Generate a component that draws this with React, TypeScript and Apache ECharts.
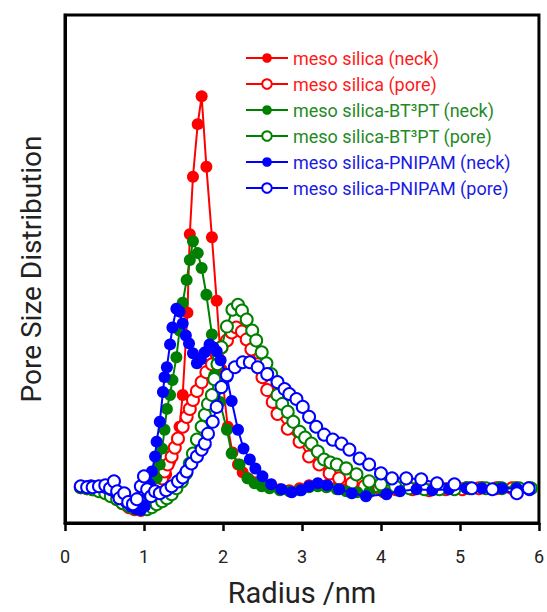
import React, { useEffect, useRef } from "react";
import * as echarts from "echarts";

// Radius (nm), pore size distribution (a.u.)
const xTickValues = [0, 1, 2, 3, 4, 5, 6];

const seriesNames = [
  "meso silica (neck)",
  "meso silica (pore)",
  "meso silica-BT³PT (neck)",
  "meso silica-BT³PT (pore)",
  "meso silica-PNIPAM (neck)",
  "meso silica-PNIPAM (pore)",
];

const redNeck: [number, number][] = [
  [0.20, 0.37], [0.28, 0.36], [0.35, 0.36], [0.43, 0.35], [0.51, 0.33], [0.58, 0.30], [0.66, 0.26],
  [0.73, 0.21], [0.81, 0.17], [0.88, 0.14], [0.96, 0.12], [1.04, 0.14], [1.11, 0.18], [1.17, 0.27],
  [1.23, 0.37], [1.28, 0.49], [1.33, 0.62], [1.39, 0.75], [1.45, 0.97], [1.49, 1.29], [1.55, 2.12],
  [1.58, 2.91], [1.62, 3.49], [1.68, 4.02], [1.73, 4.30], [1.79, 3.59], [1.86, 2.88], [1.92, 2.24],
  [1.98, 1.55], [2.06, 0.97], [2.12, 0.71], [2.19, 0.59], [2.25, 0.51], [2.32, 0.45], [2.40, 0.41],
  [2.49, 0.38], [2.59, 0.36], [2.72, 0.34], [2.84, 0.33], [2.97, 0.35], [3.09, 0.38], [3.20, 0.39],
  [3.31, 0.38], [3.44, 0.36], [3.56, 0.34], [3.70, 0.32], [3.85, 0.31], [4.03, 0.31], [4.23, 0.33],
  [4.45, 0.35], [4.65, 0.34], [4.86, 0.35], [5.08, 0.36], [5.28, 0.36], [5.49, 0.36], [5.71, 0.36],
  [5.88, 0.35],
];

const redPore: [number, number][] = [
  [0.20, 0.36], [0.28, 0.35], [0.35, 0.34], [0.43, 0.33], [0.51, 0.31], [0.58, 0.28], [0.66, 0.24],
  [0.73, 0.20], [0.81, 0.16], [0.88, 0.14], [0.96, 0.14], [1.04, 0.17], [1.10, 0.23], [1.15, 0.31],
  [1.19, 0.38], [1.23, 0.45], [1.26, 0.52], [1.30, 0.59], [1.35, 0.67], [1.39, 0.76], [1.43, 0.85],
  [1.49, 0.97], [1.54, 1.07], [1.58, 1.15], [1.62, 1.24], [1.67, 1.33], [1.73, 1.42], [1.79, 1.52],
  [1.86, 1.60], [1.92, 1.70], [1.98, 1.77], [2.05, 1.84], [2.11, 1.92], [2.17, 1.97], [2.24, 1.93],
  [2.30, 1.85], [2.36, 1.75], [2.44, 1.60], [2.50, 1.47], [2.56, 1.34], [2.63, 1.22], [2.69, 1.10],
  [2.82, 0.95], [2.97, 0.82], [3.09, 0.67], [3.22, 0.59], [3.35, 0.50], [3.47, 0.45], [3.63, 0.40],
  [3.79, 0.37], [3.98, 0.35], [4.19, 0.34], [4.40, 0.34], [4.61, 0.33], [4.82, 0.34], [5.03, 0.34],
  [5.24, 0.35], [5.46, 0.35], [5.66, 0.35], [5.87, 0.35],
];

const greenNeck: [number, number][] = [
  [0.20, 0.37], [0.28, 0.36], [0.35, 0.35], [0.43, 0.34], [0.51, 0.32], [0.58, 0.29], [0.66, 0.25],
  [0.73, 0.21], [0.81, 0.17], [0.88, 0.15], [0.96, 0.14], [1.02, 0.16], [1.07, 0.22], [1.12, 0.32],
  [1.16, 0.45], [1.20, 0.59], [1.23, 0.75], [1.26, 0.94], [1.29, 1.15], [1.33, 1.29], [1.36, 1.44],
  [1.41, 1.67], [1.45, 1.94], [1.49, 2.22], [1.54, 2.45], [1.58, 2.65], [1.62, 2.84], [1.68, 2.72],
  [1.73, 2.57], [1.79, 2.30], [1.86, 1.90], [1.89, 1.49], [1.96, 1.22], [2.05, 0.94], [2.11, 0.70],
  [2.21, 0.59], [2.31, 0.45], [2.40, 0.40], [2.49, 0.37], [2.59, 0.35], [2.72, 0.33], [2.84, 0.32],
  [2.97, 0.33], [3.09, 0.36], [3.20, 0.37], [3.31, 0.36], [3.44, 0.34], [3.56, 0.32], [3.70, 0.31],
  [3.85, 0.31], [4.03, 0.32], [4.23, 0.33], [4.45, 0.35], [4.65, 0.34], [4.86, 0.35], [5.08, 0.36],
  [5.28, 0.36], [5.49, 0.36], [5.71, 0.36], [5.88, 0.35],
];

const greenPore: [number, number][] = [
  [0.20, 0.36], [0.28, 0.35], [0.35, 0.34], [0.43, 0.32], [0.51, 0.30], [0.58, 0.27], [0.66, 0.24],
  [0.73, 0.20], [0.81, 0.17], [0.88, 0.15], [0.96, 0.14], [1.04, 0.14], [1.10, 0.16], [1.16, 0.19],
  [1.23, 0.22], [1.29, 0.25], [1.35, 0.29], [1.41, 0.35], [1.48, 0.42], [1.53, 0.50], [1.58, 0.60],
  [1.62, 0.70], [1.67, 0.84], [1.73, 0.97], [1.77, 1.09], [1.81, 1.20], [1.86, 1.29], [1.89, 1.45],
  [1.93, 1.60], [1.98, 1.77], [2.05, 1.98], [2.12, 2.15], [2.19, 2.20], [2.24, 2.14], [2.30, 2.05],
  [2.37, 1.94], [2.42, 1.84], [2.49, 1.72], [2.55, 1.61], [2.61, 1.50], [2.69, 1.29], [2.75, 1.20],
  [2.82, 1.12], [2.89, 1.02], [2.97, 0.92], [3.04, 0.86], [3.12, 0.80], [3.20, 0.72], [3.28, 0.64],
  [3.36, 0.61], [3.44, 0.59], [3.56, 0.55], [3.69, 0.49], [3.85, 0.42], [4.00, 0.39], [4.18, 0.37],
  [4.36, 0.35], [4.55, 0.34], [4.74, 0.34], [4.93, 0.34], [5.12, 0.35], [5.33, 0.35], [5.53, 0.35],
  [5.75, 0.35], [5.90, 0.35],
];

const blueNeck: [number, number][] = [
  [0.20, 0.37], [0.27, 0.37], [0.33, 0.38], [0.39, 0.37], [0.45, 0.36], [0.52, 0.35], [0.58, 0.33],
  [0.64, 0.30], [0.71, 0.26], [0.77, 0.21], [0.83, 0.17], [0.90, 0.14], [0.96, 0.13], [1.01, 0.17],
  [1.05, 0.29], [1.07, 0.39], [1.10, 0.52], [1.14, 0.67], [1.16, 0.82], [1.20, 1.02], [1.24, 1.32],
  [1.26, 1.47], [1.29, 1.57], [1.33, 1.80], [1.36, 1.97], [1.41, 2.16], [1.45, 2.13], [1.49, 2.01],
  [1.53, 1.89], [1.57, 1.81], [1.62, 1.71], [1.67, 1.61], [1.72, 1.65], [1.77, 1.72], [1.83, 1.80],
  [1.88, 1.77], [1.92, 1.73], [1.97, 1.64], [2.05, 1.47], [2.11, 1.23], [2.19, 0.94], [2.26, 0.75],
  [2.34, 0.64], [2.41, 0.55], [2.50, 0.47], [2.61, 0.39], [2.74, 0.34], [2.87, 0.31], [2.99, 0.33],
  [3.09, 0.37], [3.20, 0.40], [3.32, 0.38], [3.47, 0.34], [3.63, 0.30], [3.81, 0.27], [4.07, 0.29],
  [4.24, 0.32], [4.45, 0.34], [4.65, 0.33], [4.86, 0.34], [5.08, 0.35], [5.28, 0.35], [5.53, 0.35],
  [5.72, 0.35], [5.88, 0.33],
];

const bluePore: [number, number][] = [
  [0.20, 0.37], [0.28, 0.36], [0.35, 0.36], [0.43, 0.37], [0.51, 0.38], [0.57, 0.35], [0.62, 0.42],
  [0.66, 0.32], [0.69, 0.25], [0.75, 0.30], [0.80, 0.21], [0.86, 0.19], [0.91, 0.24], [0.96, 0.37],
  [1.00, 0.47], [1.04, 0.34], [1.09, 0.27], [1.14, 0.32], [1.20, 0.30], [1.28, 0.33], [1.35, 0.37],
  [1.43, 0.42], [1.49, 0.46], [1.54, 0.52], [1.60, 0.60], [1.67, 0.67], [1.73, 0.74], [1.77, 0.80],
  [1.81, 0.90], [1.87, 1.02], [1.92, 1.17], [1.98, 1.37], [2.05, 1.49], [2.15, 1.57], [2.25, 1.62],
  [2.34, 1.62], [2.44, 1.57], [2.56, 1.50], [2.69, 1.42], [2.78, 1.35], [2.84, 1.30], [2.93, 1.25],
  [3.01, 1.17], [3.09, 1.07], [3.18, 0.97], [3.28, 0.89], [3.39, 0.84], [3.50, 0.80], [3.60, 0.74],
  [3.73, 0.65], [3.85, 0.59], [4.00, 0.50], [4.14, 0.45], [4.32, 0.45], [4.51, 0.44], [4.71, 0.40],
  [4.93, 0.39], [5.15, 0.35], [5.41, 0.34], [5.72, 0.30], [5.87, 0.35],
];

const seriesData = [redNeck, redPore, greenNeck, greenPore, blueNeck, bluePore];
const seriesColors = ["#ff0000", "#ff0000", "#008000", "#008000", "#0000ff", "#0000ff"];
const textColors = ["#ff1a1a", "#ff1a1a", "#1f8a1f", "#1f8a1f", "#1a1ae6", "#1a1ae6"];
const seriesFilled = [true, false, true, false, true, false];

export default function App() {
  const ref = useRef<HTMLDivElement>(null);
  useEffect(() => {
    document.body.style.margin = "0";
    const chart = echarts.init(ref.current as HTMLDivElement, null, { renderer: "svg" });
    const font = "Roboto";
    chart.setOption({
      animation: false,
      backgroundColor: "#ffffff",
      grid: {
        left: 65,
        right: 7,
        top: 15,
        bottom: 85,
        show: true,
        borderColor: "#000",
        borderWidth: 3,
        backgroundColor: "transparent",
      },
      legend: {
        orient: "vertical",
        left: 240,
        top: 44,
        itemWidth: 42,
        itemHeight: 12,
        itemGap: 8,
        selectedMode: false,
        textStyle: { fontFamily: font, fontSize: 18, lineHeight: 18 },
        data: seriesNames.map((n, i) => ({ name: n, textStyle: { color: textColors[i] } })),
      },
      xAxis: {
        type: "value",
        min: xTickValues[0],
        max: xTickValues[xTickValues.length - 1],
        interval: 1,
        name: "Radius /nm",
        nameLocation: "middle",
        nameGap: 55,
        nameTextStyle: { fontFamily: font, fontSize: 29, color: "#222" },
        axisLine: { show: true, onZero: false, lineStyle: { color: "#000", width: 3 } },
        axisTick: { show: true, inside: false, length: 8, lineStyle: { color: "#000", width: 2.5 } },
        axisLabel: { fontFamily: font, fontSize: 18, color: "#222", margin: 24 },
        splitLine: { show: false },
      },
      yAxis: {
        type: "value",
        min: 0,
        max: 5.12,
        name: "Pore Size Distribution",
        nameLocation: "middle",
        nameGap: 20,
        nameTextStyle: { fontFamily: font, fontSize: 28, color: "#222" },
        axisLine: { show: true, onZero: false, lineStyle: { color: "#000", width: 3 } },
        axisTick: { show: false },
        axisLabel: { show: false },
        splitLine: { show: false },
      },
      series: seriesData.map((d, i) => ({
        name: seriesNames[i],
        type: "line",
        data: d,
        symbol: seriesFilled[i] ? "circle" : "emptyCircle",
        symbolSize: 12,
        showSymbol: true,
        showAllSymbol: true,
        lineStyle: { color: seriesColors[i], width: 2 },
        itemStyle: { color: seriesColors[i], borderColor: seriesColors[i], borderWidth: seriesFilled[i] ? 0 : 2 },
        emphasis: { disabled: true },
        z: 2 + i,
      })),
    });
    return () => chart.dispose();
  }, []);
  return <div ref={ref} style={{ position: "absolute", left: 0, top: 0, width: 547, height: 612 }} />;
}
